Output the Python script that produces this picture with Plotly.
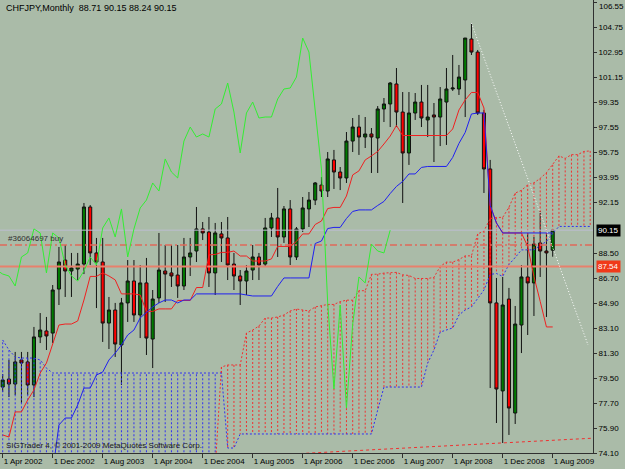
import plotly.graph_objects as go

# ---------------- data (monthly bars, index 0 = Apr 2002) ----------------
opens = [78.85, 79.43, 79.07, 80.80, 80.66, 79.00, 82.46, 82.89, 82.74, 85.91,
         88.00, 87.21, 87.35, 87.71, 91.82, 88.51, 87.86, 83.46, 84.40, 81.88,
         84.91, 86.49, 84.04, 86.35, 82.31, 85.27, 87.21, 87.07, 86.92, 86.13,
         88.22, 88.65, 90.24, 90.02, 87.07, 89.88, 89.59, 87.71, 86.85, 86.49,
         87.28, 88.22, 87.71, 90.31, 91.03, 89.66, 91.68, 88.22, 90.24, 91.68,
         92.32, 93.40, 92.97, 95.21, 94.34, 93.91, 96.57, 97.58, 96.86, 97.08,
         96.79, 98.88, 99.24, 100.68, 98.66, 95.71, 98.59, 99.38, 98.09, 98.45,
         98.30, 99.38, 100.32, 100.32, 100.97, 103.92, 102.98, 98.59, 94.56, 84.91,
         78.57, 85.19, 76.98, 83.32, 86.78, 86.35, 89.23, 88.65, 88.71]
highs = [79.79, 80.80, 81.38, 81.38, 81.38, 83.18, 84.18, 83.90, 86.20, 88.94,
         89.08, 88.51, 88.51, 92.11, 91.96, 89.59, 89.59, 85.34, 84.91, 85.27,
         88.00, 88.00, 87.64, 88.15, 85.84, 89.95, 89.08, 89.08, 89.08, 89.59,
         89.59, 91.82, 90.74, 91.10, 90.67, 90.74, 91.10, 88.51, 87.28, 87.64,
         89.08, 88.51, 91.03, 91.39, 93.19, 91.89, 92.32, 90.38, 92.54, 92.90,
         93.62, 93.98, 95.78, 95.93, 94.70, 97.22, 98.23, 98.45, 98.30, 97.51,
         99.09, 99.67, 100.82, 101.83, 100.10, 100.10, 100.03, 100.61, 100.61, 99.31,
         100.46, 101.83, 102.77, 102.05, 103.99, 105.07, 103.13, 98.81, 95.21, 86.71,
         86.78, 85.99, 84.69, 87.64, 89.95, 89.66, 91.53, 89.95, 90.15]
lows = [78.49, 78.13, 78.28, 77.70, 78.28, 78.13, 82.02, 81.52, 82.02, 84.76,
        85.34, 85.34, 86.56, 86.99, 87.64, 84.54, 82.10, 81.59, 81.02, 79.00,
        83.54, 83.54, 82.38, 81.16, 80.22, 84.91, 84.98, 86.06, 85.27, 85.84,
        86.85, 87.86, 89.44, 86.06, 85.48, 87.86, 86.56, 85.84, 84.76, 85.48,
        86.56, 86.56, 87.50, 89.66, 88.22, 89.23, 87.64, 88.00, 90.02, 90.38,
        91.96, 92.54, 92.54, 93.12, 93.04, 93.55, 95.78, 95.57, 96.07, 94.27,
        94.27, 97.94, 97.58, 97.58, 92.11, 94.85, 98.09, 97.58, 96.86, 95.06,
        96.21, 96.29, 100.18, 99.89, 98.30, 102.77, 98.45, 92.83, 78.78, 76.26,
        74.82, 75.40, 76.19, 81.30, 82.60, 83.97, 86.78, 83.90, 88.24]
closes = [79.36, 79.07, 80.66, 80.58, 79.00, 82.46, 82.96, 82.53, 85.84, 87.86,
          87.21, 87.43, 87.71, 91.82, 88.51, 87.86, 83.46, 84.40, 81.95, 84.91,
          86.49, 84.04, 86.35, 82.38, 85.19, 87.28, 86.99, 86.85, 86.13, 88.22,
          88.51, 90.24, 89.95, 87.07, 89.95, 89.59, 87.64, 86.85, 86.49, 87.21,
          88.22, 87.64, 90.31, 91.03, 89.66, 91.68, 88.22, 90.24, 91.75, 92.32,
          93.55, 92.97, 95.28, 94.34, 93.91, 96.57, 97.58, 96.86, 97.08, 96.86,
          98.88, 99.24, 100.75, 98.66, 95.71, 98.59, 99.38, 98.23, 98.30, 98.30,
          99.60, 100.32, 100.39, 101.18, 103.99, 102.98, 98.59, 94.56, 84.91, 78.71,
          84.76, 77.34, 83.39, 86.78, 86.35, 89.15, 88.65, 88.51, 90.15]

# Ichimoku lines
tenkan = [75.40, 75.25, 77.06, 77.06, 77.92, 78.64, 79.86, 80.58, 81.95, 83.32,
          83.39, 83.39, 83.61, 85.12, 86.82, 86.82, 87.07, 86.85, 86.57, 85.56,
          85.56, 85.56, 85.48, 84.30, 84.30, 84.48, 84.48, 84.48, 85.09, 85.09,
          85.09, 86.02, 86.02, 88.37, 88.40, 88.55, 88.55, 88.65, 88.29, 88.29,
          87.93, 87.93, 87.93, 88.08, 88.98, 88.98, 88.98, 89.34, 89.88, 89.88,
          90.56, 90.81, 91.71, 91.79, 91.79, 92.61, 94.13, 94.42, 95.21, 95.50,
          95.82, 96.36, 96.93, 97.69, 96.97, 96.97, 96.97, 96.97, 96.97, 96.97,
          96.97, 96.97, 97.44, 98.81, 99.53, 100.07, 100.07, 98.95, 91.93, 90.67,
          89.95, 89.95, 89.95, 89.95, 88.98, 86.82, 85.02, 83.18, 83.18]
kijun = [None, None, None, None, None, None, None, None, 72.75, 76.12,
         76.62, 76.62, 77.56, 78.78, 78.78, 79.72, 79.93, 80.80, 81.30, 81.88,
         82.60, 82.96, 83.83, 84.26, 84.62, 84.91, 85.12, 85.12, 84.91, 85.12,
         85.12, 85.56, 85.56, 85.56, 85.56, 85.56, 85.56, 85.56, 85.56, 85.48,
         85.41, 85.41, 85.41, 85.41, 86.10, 86.71, 86.71, 86.71, 86.71, 86.71,
         89.19, 89.37, 90.27, 90.35, 90.35, 90.99, 91.50, 91.61, 91.61, 91.61,
         91.93, 92.22, 92.79, 93.30, 93.66, 94.20, 94.20, 94.67, 94.74, 94.74,
         94.74, 94.74, 95.39, 96.40, 97.19, 98.52, 98.59, 98.59, 91.93, 90.67,
         89.95, 89.95, 89.95, 89.95, 89.95, 89.95, 89.95, 89.95, 89.95]
# Senkou spans, drawn at their (forward shifted) bar positions 0..94
span_a = [73.0, 73.0, 73.0, 73.0, 73.0, 73.0, 73.0, 73.0, 73.0, 73.0,
          73.0, 73.0, 73.0, 73.0, 73.0, 73.0, 73.0, 73.0, 73.0, 73.0,
          73.0, 73.0, 73.0, 73.0, 73.0, 73.0, 73.0, 73.0, 73.0, 73.0,
          73.0, 73.0, 73.0, 73.0, 73.0, 80.29, 80.44, 80.44, 80.44, 82.74,
          82.96, 83.25, 83.82, 83.82, 83.90, 84.04, 84.33, 84.47, 84.40, 84.33,
          84.62, 84.70, 84.80, 84.80, 85.00, 85.11, 85.11, 85.79, 85.79, 86.97,
          86.98, 87.06, 87.06, 87.11, 86.93, 86.89, 86.67, 86.67, 86.67, 86.75,
          87.54, 87.85, 87.85, 88.03, 88.30, 88.30, 89.88, 90.09, 90.99, 91.07,
          91.07, 91.80, 92.82, 93.02, 93.41, 93.56, 93.88, 94.29, 94.86, 95.50,
          95.32, 95.59, 95.59, 95.82, 95.86]
span_b = [82.24, 81.52, 81.02, 80.94, 80.94, 80.94, 80.80, 80.22, 79.86, 79.86,
          79.86, 79.86, 79.86, 79.86, 79.86, 79.86, 79.86, 79.86, 79.86, 79.86,
          79.86, 79.86, 79.86, 79.86, 79.86, 79.86, 79.86, 79.86, 79.86, 79.86,
          79.86, 79.86, 79.86, 79.86, 79.86, 79.86, 74.46, 74.46, 75.47, 75.47,
          75.47, 75.47, 75.47, 75.47, 75.47, 75.47, 75.47, 75.47, 75.47, 75.47,
          75.47, 75.47, 75.47, 75.47, 75.47, 75.47, 75.47, 75.47, 75.47, 75.47,
          77.20, 78.85, 78.85, 78.85, 78.85, 78.85, 78.85, 78.85, 80.58, 81.52,
          82.81, 82.96, 83.11, 84.04, 84.40, 84.62, 85.27, 85.84, 86.96, 87.03,
          86.82, 87.68, 88.18, 88.73, 88.73, 88.73, 89.05, 89.34, 89.91, 90.42,
          90.42, 90.42, 90.42, 90.42, 90.42]
CHIKOU_SHIFT = 26

# drawn objects
bid_price = 90.15
order_price = 89.08
stop_price = 87.54
white_trend_x = [75, 93.65]
white_trend_y = [105.07, 81.88]
red_trend_x = [47.6, 94.5]
red_trend_y = [74.06, 75.17]

date_ticks = [0, 8, 16, 24, 32, 40, 48, 56, 64, 72, 80, 88]
date_labels = ["1 Apr 2002", "1 Dec 2002", "1 Aug 2003", "1 Apr 2004", "1 Dec 2004",
               "1 Aug 2005", "1 Apr 2006", "1 Dec 2006", "1 Aug 2007", "1 Apr 2008",
               "1 Dec 2008", "1 Aug 2009"]
price_ticks = [106.55, 104.75, 102.95, 101.15, 99.35, 97.55, 95.75, 93.95, 92.15,
               88.50, 86.70, 84.90, 83.10, 81.30, 79.50, 77.70, 75.90, 74.10]
price_labels = ["106.55", "104.75", "102.95", "101.15", "99.35", "97.55", "95.75",
                "93.95", "92.15", "88.50", "86.70", "84.90", "83.10", "81.30",
                "79.50", "77.70", "75.90", "74.10"]

# ---------------- figure ----------------
BG = "#AABBA8"
FONT = "Liberation Sans"
idx = list(range(len(closes)))
fig = go.Figure()

# cloud hatching
rx, ry, bx, by = [], [], [], []
for j, (a, b) in enumerate(zip(span_a, span_b)):
    if a >= b:
        rx += [j, j, None]; ry += [a, b, None]
    else:
        bx += [j, j, None]; by += [a, b, None]
fig.add_trace(go.Scatter(x=rx, y=ry, mode="lines", line=dict(color="#F03030", width=1, dash="2px,2px"),
                         hoverinfo="skip", connectgaps=False))
fig.add_trace(go.Scatter(x=bx, y=by, mode="lines", line=dict(color="#3030F0", width=1, dash="2px,2px"),
                         hoverinfo="skip", connectgaps=False))
span_x = list(range(len(span_a)))
fig.add_trace(go.Scatter(x=span_x, y=span_a, mode="lines", line=dict(color="#F03030", width=1, dash="2px,2px"), hoverinfo="skip"))
fig.add_trace(go.Scatter(x=span_x, y=span_b, mode="lines", line=dict(color="#3030F0", width=1, dash="2px,2px"), hoverinfo="skip"))

xr = [-0.432, 94.448]
# horizontal order / price lines
fig.add_trace(go.Scatter(x=xr, y=[stop_price] * 2, mode="lines", line=dict(color="#E8806C", width=2), hoverinfo="skip"))
fig.add_trace(go.Scatter(x=xr, y=[order_price] * 2, mode="lines", line=dict(color="#E06A5A", width=1.5, dash="7px,3px,2px,3px"), hoverinfo="skip"))
fig.add_trace(go.Scatter(x=xr, y=[bid_price] * 2, mode="lines", line=dict(color="#BDBDD0", width=1), hoverinfo="skip"))

# candles
fig.add_trace(go.Candlestick(
    x=idx, open=opens, high=highs, low=lows, close=closes,
    increasing=dict(line=dict(color="#101010", width=1), fillcolor="#007A00"),
    decreasing=dict(line=dict(color="#101010", width=1), fillcolor="#FF0000"),
    whiskerwidth=0, hoverinfo="skip"))

# indicator lines
fig.add_trace(go.Scatter(x=idx, y=tenkan, mode="lines", line=dict(color="#F02020", width=1), hoverinfo="skip"))
fig.add_trace(go.Scatter(x=idx, y=kijun, mode="lines", line=dict(color="#2020F0", width=1), hoverinfo="skip"))
fig.add_trace(go.Scatter(x=[i - CHIKOU_SHIFT for i in idx], y=closes, mode="lines",
                         line=dict(color="#33EE33", width=1), hoverinfo="skip"))

# trend lines
fig.add_trace(go.Scatter(x=white_trend_x, y=white_trend_y, mode="lines", line=dict(color="white", width=1, dash="1px,2px"), hoverinfo="skip"))
fig.add_trace(go.Scatter(x=red_trend_x, y=red_trend_y, mode="lines", line=dict(color="#F03030", width=1, dash="3px,3px"), hoverinfo="skip"))

# the topmost price label sits at the window edge: it is written as an annotation so that it stays whole
axis_labels = [t if k > 0 else "" for k, t in enumerate(price_labels)]

fig.update_layout(
    width=625, height=469, margin=dict(l=0, r=32, t=0, b=16, autoexpand=False),
    plot_bgcolor=BG, paper_bgcolor=BG, showlegend=False,
    font=dict(family=FONT, size=8, color="black"),
    xaxis=dict(range=xr, showgrid=False, zeroline=False, showline=True, mirror=True, automargin=False,
               linecolor="#303030", linewidth=1, ticks="outside", ticklen=4, tickcolor="#303030",
               tickvals=date_ticks, ticktext=date_labels, ticklabelposition="outside right", tickangle=0,
               tickfont=dict(family=FONT, size=8, color="black"), rangeslider=dict(visible=False)),
    yaxis=dict(range=[74.10, 106.73], side="right", showgrid=False, zeroline=False, showline=True,
               mirror=True, automargin=False, linecolor="#303030", linewidth=1, ticks="outside", ticklen=3,
               tickcolor="#303030", tickvals=price_ticks, ticktext=axis_labels,
               tickfont=dict(family=FONT, size=8, color="black")),
)

ann = [
    dict(text=price_labels[0], xref="paper", yref="paper", x=1, y=1, xanchor="left", yanchor="top",
         xshift=4, yshift=0, showarrow=False, font=dict(family=FONT, size=8, color="black")),
    dict(text="CHFJPY,Monthly  88.71 90.15 88.24 90.15", xref="paper", yref="paper", x=0, y=1,
         xanchor="left", yanchor="top", xshift=4, yshift=-1, showarrow=False,
         font=dict(family=FONT, size=9, color="black")),
    dict(text="SIGTrader 4, \u00a9 2001-2009 MetaQuotes Software Corp.", xref="paper", yref="paper",
         x=0, y=0, xanchor="left", yanchor="bottom", xshift=4, yshift=1, showarrow=False,
         font=dict(family=FONT, size=8, color="#202020")),
    dict(text="#36064697 buy", xref="paper", yref="y", x=0, y=order_price, xanchor="left",
         yanchor="bottom", xshift=6, yshift=0, showarrow=False,
         font=dict(family=FONT, size=8, color="#303030")),
    dict(text="90.15", xref="paper", yref="y", x=1, y=bid_price, xanchor="left", yanchor="middle",
         xshift=3, showarrow=False, bgcolor="black", borderpad=1,
         font=dict(family=FONT, size=8, color="white")),
    dict(text="87.54", xref="paper", yref="y", x=1, y=stop_price, xanchor="left", yanchor="middle",
         xshift=3, showarrow=False, bgcolor="#F03A1A", borderpad=1,
         font=dict(family=FONT, size=8, color="white")),
]
fig.update_layout(annotations=ann)
fig.write_html("out.html")
